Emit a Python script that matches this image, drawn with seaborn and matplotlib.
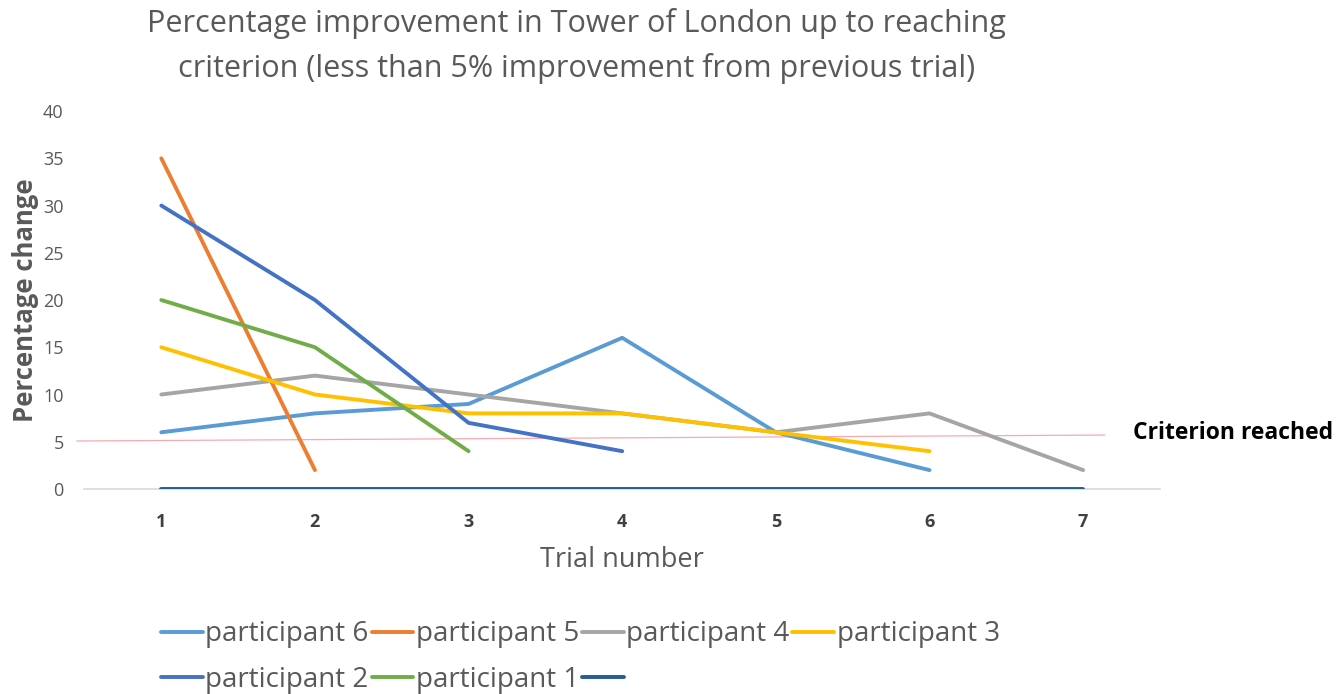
import matplotlib
matplotlib.use("Agg")
import matplotlib.pyplot as plt
import seaborn as sns
import pandas as pd

# values
trials = [1, 2, 3, 4, 5, 6, 7]
participant_6 = [6, 8, 9, 16, 6, 2]
participant_5 = [35, 2]
participant_4 = [10, 12, 10, 8, 6, 8, 2]
participant_3 = [15, 10, 8, 8, 6, 4]
participant_2 = [30, 20, 7, 4]
participant_1 = [20, 15, 4]
baseline = [0, 0, 0, 0, 0, 0, 0]

series_names = ["participant 6", "participant 5", "participant 4", "participant 3",
                "participant 2", "participant 1", ""]
series_values = [participant_6, participant_5, participant_4, participant_3,
                 participant_2, participant_1, baseline]
series_colors = ["#5B9BD5", "#ED7D31", "#A5A5A5", "#FFC000", "#4472C4", "#70AD47", "#255E91"]

# hand-drawn criterion line (slightly sloped in the original)
criterion_x = [0.45, 7.14]
criterion_y = [5.08, 5.71]

sns.set_theme(style="white")
plt.rcParams['font.family'] = ['Open Sans', 'DejaVu Sans']

fig = plt.figure(figsize=(13.41, 6.94), dpi=100)
ax = fig.add_axes([0.063, 0.2954, 0.802, 0.5446])

handles = []
for name, vals, col in zip(series_names, series_values, series_colors):
    df = pd.DataFrame({"trial": trials[:len(vals)], "value": vals})
    sns.lineplot(data=df, x="trial", y="value", color=col, linewidth=2.8,
                 ax=ax, legend=False, solid_capstyle="round")
    handles.append(ax.get_lines()[-1])

ax.plot(criterion_x, criterion_y, color="#F7A9B0", linewidth=0.9, clip_on=False, zorder=1)

ax.set_xlim(0.5, 7.5)
ax.set_ylim(0, 40)
ax.set_xticks(trials)
ax.set_yticks(range(0, 41, 5))
for s in ["top", "right", "left"]:
    ax.spines[s].set_visible(False)
ax.spines["bottom"].set_color("#D9D9D9")
ax.spines["bottom"].set_linewidth(1.2)
ax.spines["bottom"].set_zorder(0)
ax.tick_params(axis="y", length=0, pad=15, labelsize=13, labelcolor="#595959")
ax.tick_params(axis="x", length=0, pad=17, labelsize=13, labelcolor="#404040")
for lbl in ax.get_xticklabels():
    lbl.set_fontweight("bold")
ax.set_xlabel("")
ax.set_ylabel("")

fig.text(0.43, 0.966, "Percentage improvement in Tower of London up to reaching",
         ha="center", va="center", fontsize=22, color="#595959")
fig.text(0.43, 0.901, "criterion (less than 5% improvement from previous trial)",
         ha="center", va="center", fontsize=22, color="#595959")
fig.text(0.019, 0.568, "Percentage change", rotation=90, ha="center", va="center",
         fontsize=18.5, fontweight="bold", color="#595959")
fig.text(0.464, 0.193, "Trial number", ha="center", va="center",
         fontsize=19.5, color="#595959")
fig.text(0.845, 0.376, "Criterion reached", ha="left", va="center",
         fontsize=16.5, fontweight="bold", color="black")

# legend laid out row-wise like the original (matplotlib fills column-wise)
order = [0, 4, 1, 5, 2, 6, 3]
leg = fig.legend([handles[i] for i in order], [series_names[i] for i in order],
                 ncol=4, loc="upper left", bbox_to_anchor=(0.12, 0.106),
                 frameon=False, fontsize=20, handlelength=1.5, handletextpad=0.1,
                 columnspacing=0.1, labelspacing=0.62, borderaxespad=0,
                 borderpad=0)
for t in leg.get_texts():
    t.set_color("#595959")

fig.savefig("out.png", dpi=100)
